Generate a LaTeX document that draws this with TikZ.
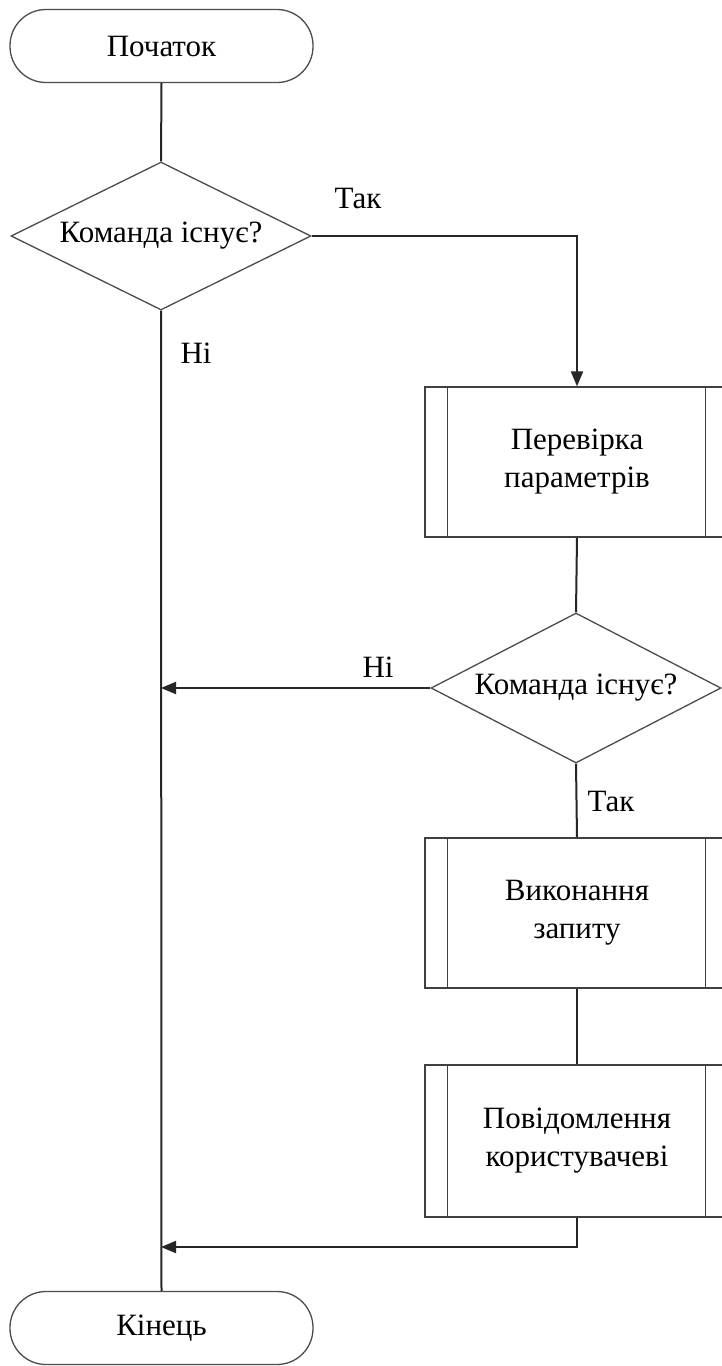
\documentclass[tikz,border=0pt]{standalone}
\usepackage{fontspec}
\setmainfont{Liberation Serif}
\usetikzlibrary{shapes.geometric,arrows.meta}
\begin{document}
\begin{tikzpicture}[x=1pt,y=-1pt,
  every node/.style={font=\fontsize{31}{38}\selectfont, text=black},
  term/.style={draw=black!70, line width=1.3pt, rectangle, rounded corners=36pt, minimum width=303pt, minimum height=73pt, inner sep=0pt},
  decide/.style={draw=black!70, line width=1.3pt, diamond, shape aspect=2, minimum width=300pt, minimum height=148pt, inner sep=0pt},
  proc/.style={draw=black!75, line width=1.3pt, rectangle, minimum width=304pt, minimum height=150pt, inner sep=0pt, align=center},
  conn/.style={draw=black!85, line width=2pt},
  arr/.style={conn, -{Triangle[length=15pt,width=12pt]}},
  lbl/.style={inner sep=0pt}
]
\useasboundingbox (0,0) rectangle (722,1366);
\fill[white] (0,0) rectangle (722,1366);

\node[term] (start) at (161.5,46) {Початок};
\node[decide] (d1) at (161,236) {Команда існує?};
\node[proc] (b1) at (577,462) {Перевірка\\параметрів};
\node[decide, minimum width=290pt, minimum height=150pt] (d2) at (576,688) {Команда існує?};
\node[proc] (b2) at (577,913) {Виконання\\запиту};
\node[proc, minimum height=152pt] (b3) at (577,1141) {Повідомлення\\користувачеві};
\node[term] (end) at (161.5,1328) {Кінець};

\foreach \b in {b1,b2,b3}{
  \draw[draw=black!75, line width=1.3pt] ([xshift=23pt]\b.north west) -- ([xshift=23pt]\b.south west);
  \draw[draw=black!75, line width=1.3pt] ([xshift=-24pt]\b.north east) -- ([xshift=-24pt]\b.south east);
}

\coordinate (m1) at (161,688);
\coordinate (m2) at (161,1247);

\draw[conn] (start.south) -- (d1.north);
\draw[arr] (d1.east) -| (b1.north);
\draw[conn] (d1.south) -- (end.north);
\draw[conn] (b1.south) -- (d2.north);
\draw[arr] (d2.west) -- (m1);
\draw[conn] (d2.south) -- (b2.north);
\draw[conn] (b2.south) -- (b3.north);
\draw[arr] (b3.south) |- (m2);

\node[lbl] (t1) at (358,198) {Так};
\node[lbl] (n1) at (196,353) {Ні};
\node[lbl] (n2) at (378,667) {Ні};
\node[lbl] (t2) at (611,801) {Так};
\end{tikzpicture}
\end{document}
